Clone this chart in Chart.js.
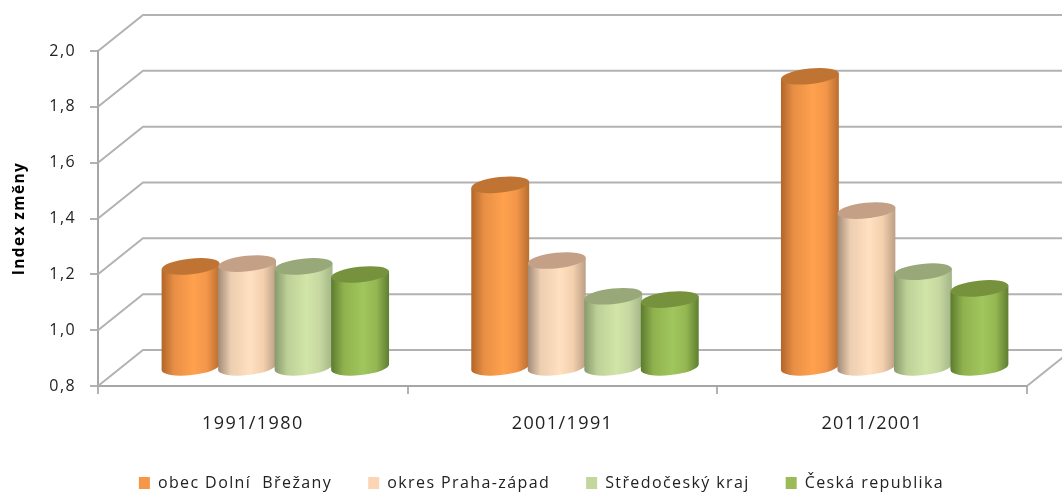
<!DOCTYPE html>
<html><head><meta charset="utf-8">
<style>html,body{margin:0;padding:0;background:#fff}#w{width:1062px;height:493px}canvas{filter:blur(0.45px)}</style>
<script src="https://cdn.jsdelivr.net/npm/chart.js@4"></script></head>
<body><div id="w"><canvas id="c" width="1062" height="493"></canvas></div>
<script>
const categories = ["1991/1980","2001/1991","2011/2001"];
const seriesNames = ["obec Dolní  Břežany","okres Praha-západ","Středočeský kraj","Česká republika"];
const obec = [1.164,1.456,1.845];
const okres = [1.174,1.185,1.364];
const kraj = [1.164,1.057,1.145];
const cr = [1.135,1.045,1.085];
const legendColors = ["#f79646","#fcd5b5","#c3d69b","#9bbb59"];
const capColors = ["#bf7433","#c3a086","#98a878","#76923c"];
const bodyStops = [
  ["#b0652a","#e88f45","#ffa14d","#f3964a","#b96d2e"],
  ["#a08a76","#ecceb0","#ffe0c0","#f3d0ae","#bb9e84"],
  ["#86996c","#bccf96","#d2e5a8","#c6d8a0","#a3b488"],
  ["#5c7a2e","#8fb24e","#a2c65e","#94b752","#5f7d30"]
];
const depthX = 45, depthY = -36, tilt = -6*Math.PI/180, capRy = 7.8, gridColor = "#b2b2b2", axisColor = "#a6a6a6";

const walls = {
  id:"walls",
  beforeDatasetsDraw(chart){
    const {ctx,scales:{y,x},chartArea:a} = chart;
    ctx.save();
    ctx.strokeStyle = gridColor; ctx.lineWidth = 2;
    y.ticks.forEach((t,i)=>{
      const py = y.getPixelForTick(i);
      ctx.beginPath();
      ctx.moveTo(a.left,py);
      ctx.lineTo(a.left+depthX,py+depthY);
      ctx.lineTo(a.right+depthX,py+depthY);
      ctx.stroke();
    });
    ctx.beginPath();
    ctx.moveTo(a.right,a.bottom);
    ctx.lineTo(a.right+depthX,a.bottom+depthY);
    ctx.stroke();
    const basePx = y.getPixelForValue(y.min);
    chart.data.datasets.forEach((ds,d)=>{
      chart.getDatasetMeta(d).data.forEach(el=>{
        const w = el.width*1.03, rx = w/2;
        const cx = el.x+depthX/2, top = el.y+depthY/2, bot = basePx+depthY/2-0.7;
        const g = ctx.createLinearGradient(cx-rx,0,cx+rx,0);
        const st = bodyStops[d];
        [0,0.22,0.55,0.78,1].forEach((p,k)=>g.addColorStop(p,st[k]));
        const ex = rx*Math.cos(tilt), ey = rx*Math.sin(tilt);
        ctx.beginPath();
        ctx.moveTo(cx-ex,top-ey);
        ctx.lineTo(cx-ex,bot-ey);
        ctx.ellipse(cx,bot,rx,capRy,tilt,Math.PI,0,true);
        ctx.lineTo(cx+ex,top+ey);
        ctx.closePath();
        ctx.fillStyle = g; ctx.fill();
        ctx.beginPath();
        ctx.ellipse(cx,top,rx,capRy,tilt,0,Math.PI*2);
        ctx.fillStyle = capColors[d]; ctx.fill();
      });
    });
    ctx.restore();
    return false;
  }
};
const spacing = {id:"spacing",
  beforeLayout(chart){chart.ctx.letterSpacing="1.4px";},
  afterLayout(chart){chart.legend.left+=28;chart.legend.right+=28;},
  beforeDraw(chart){chart.ctx.letterSpacing="1.4px";}};

new Chart(document.getElementById("c"),{
  type:"bar",
  plugins:[spacing,walls],
  data:{labels:categories,datasets:[obec,okres,kraj,cr].map((v,i)=>({
    label:seriesNames[i],data:v,backgroundColor:legendColors[i],borderWidth:0,
    categoryPercentage:0.73,barPercentage:1
  }))},
  options:{
    responsive:false,animation:false,
    layout:{padding:{left:0,right:35,top:51,bottom:-8}},
    plugins:{
      tooltip:{enabled:false},
      legend:{position:"bottom",align:"center",
        labels:{boxWidth:11,boxHeight:12,padding:36,color:"#222",font:{family:"Open Sans",size:16}}}
    },
    scales:{
      x:{
        afterFit(s){s.height=53;},
        grid:{drawOnChartArea:false,drawTicks:true,tickLength:8,color:gridColor,lineWidth:2},
        border:{display:true,color:axisColor,width:2},
        ticks:{color:"#222",padding:19,font:{family:"Open Sans",size:18},maxRotation:0}
      },
      y:{
        min:0.8,max:2,
        afterFit(s){s.width=98;},
        title:{display:true,text:"Index změny",color:"#000",padding:{top:10,bottom:0},font:{family:"Open Sans",size:15.5,weight:"bold"}},
        grid:{drawOnChartArea:false,drawTicks:true,tickLength:8,color:gridColor,lineWidth:2},
        border:{display:true,color:axisColor,width:2},
        ticks:{stepSize:0.2,color:"#222",padding:14,font:{family:"Open Sans",size:16},
          callback:v=>v.toFixed(1).replace(".",",")}
      }
    }
  }
});
</script></body></html>
